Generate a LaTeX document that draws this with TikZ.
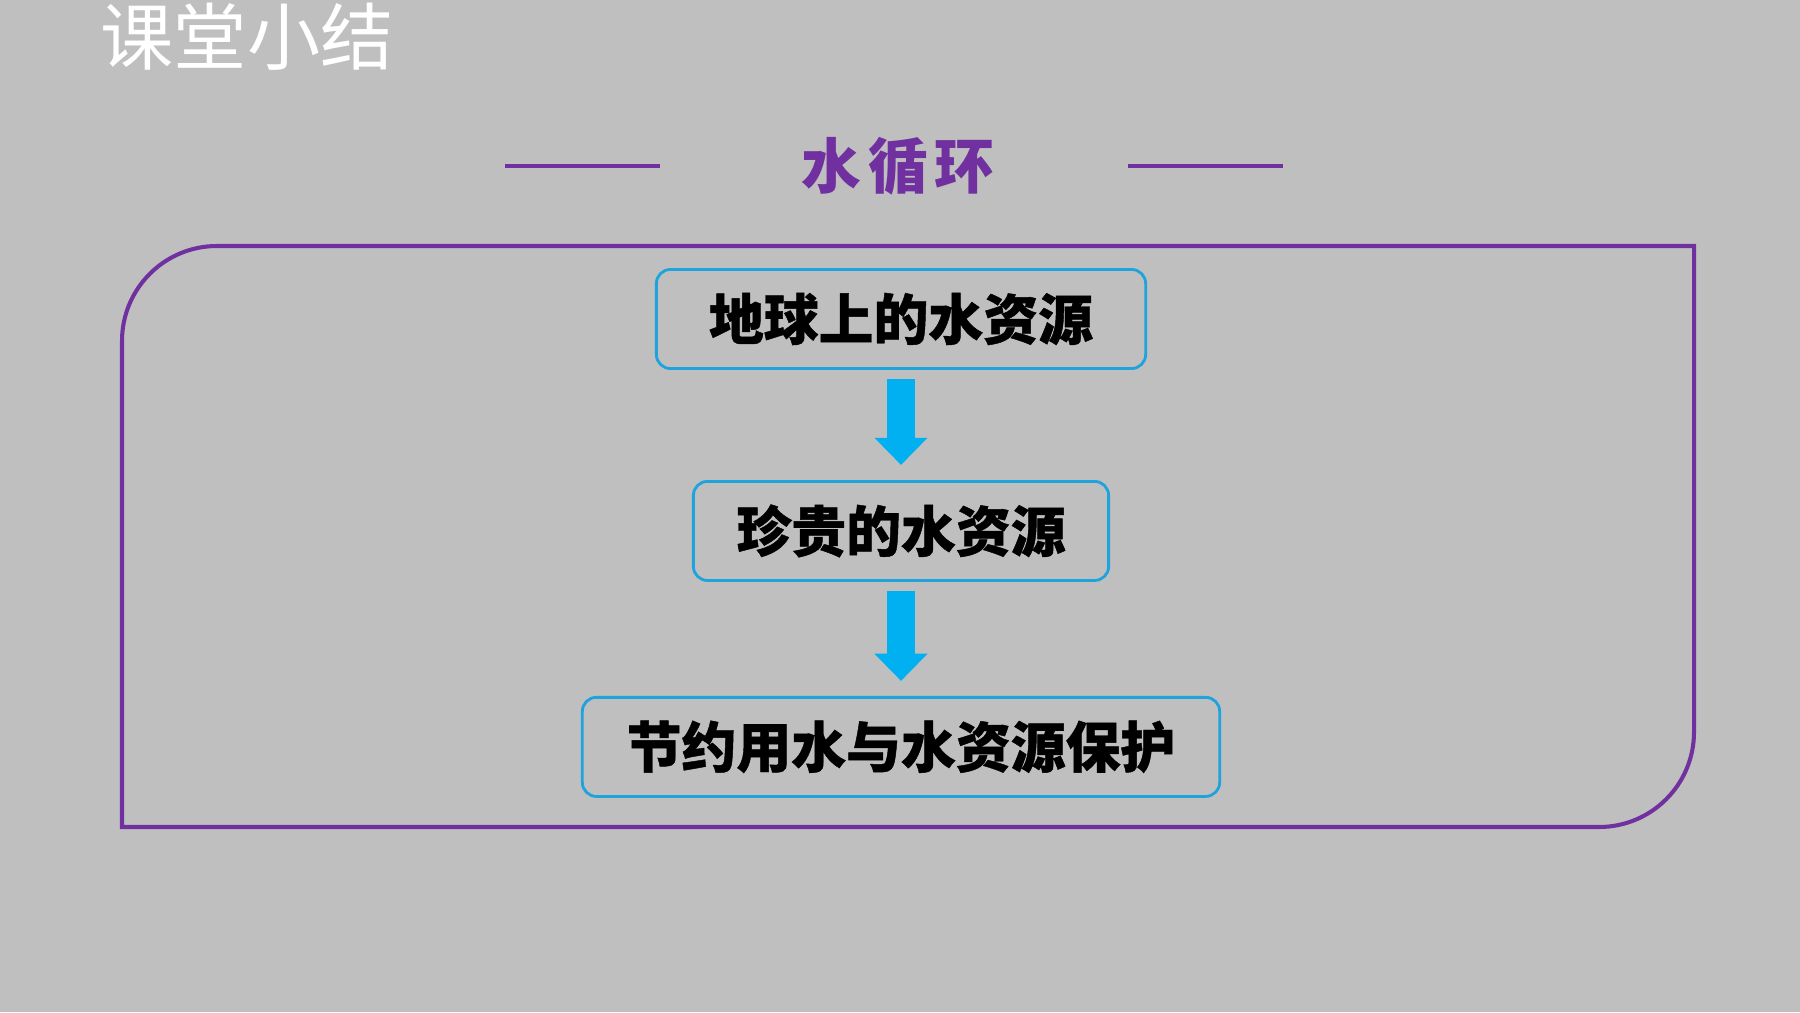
\documentclass[tikz,border=0pt]{standalone}
\usepackage{fontspec}
\usepackage{xcolor}
\usetikzlibrary{arrows.meta, positioning}
\newfontfamily\cjk[BoldFeatures={FakeBold=0.8}]{Noto Sans CJK SC}
\newfontfamily\cjkhead{Noto Sans CJK SC}
\definecolor{PageGrey}{RGB}{191,191,191}
\definecolor{AccPurple}{RGB}{112,48,160}
\definecolor{BoxBlue}{RGB}{30,163,220}
\definecolor{ArrowBlue}{RGB}{0,176,240}

\begin{document}
\begin{tikzpicture}[x=0.01cm, y=-0.01cm]

\tikzset{
topic/.style args={#1}{
draw=BoxBlue,
line width=0.8pt,
rounded corners=4pt,
minimum width=#1,
minimum height=0.99cm,
inner sep=0pt,
font=\cjk\bfseries\fontsize{15.6}{18}\selectfont
},
flow/.style={
ArrowBlue,
line width=7.7pt,
shorten <=2.6pt,
shorten >=4.3pt,
-{Triangle[width=15.1pt, length=7.7pt, line width=0pt]}
},
rule/.style={AccPurple, line width=0.9pt}
}

\useasboundingbox (0,0) rectangle (1800,1012);
\fill[PageGrey] (0,0) rectangle (1800,1012);

\node[text=white, font=\cjk\fontsize{20.8}{24}\selectfont] (lesson) at (247,37) {课堂小结};

\node[text=AccPurple, font=\cjkhead\bfseries\fontsize{17}{20}\selectfont] (cycle) at (898,166)
{水\hspace{2pt}循\hspace{2pt}环};
\draw[rule] (505,166) -- (660,166);
\draw[rule] (1128,166) -- (1283,166);

% frame round the three steps
\draw[AccPurple, line width=1.15pt] (122,540) [rounded corners=27pt] -- (122,246) -- (900,246)
[sharp corners] -- (1694,246) -- (1694,540) [rounded corners=27pt] -- (1694,827) -- (900,827)
[sharp corners] -- (122,827) -- cycle;

\node[topic=4.89cm] (earth) at (901,319) {地球上的水资源};

\node[topic=4.15cm,
below=1.10cm of earth] (precious) {珍贵的水资源};

\node[topic=6.37cm,
below=1.14cm of precious] (protect) {节约用水与水资源保护};

\draw[flow] (earth) -- (precious);
\draw[flow] (precious) -- (protect);

\end{tikzpicture}
\end{document}
